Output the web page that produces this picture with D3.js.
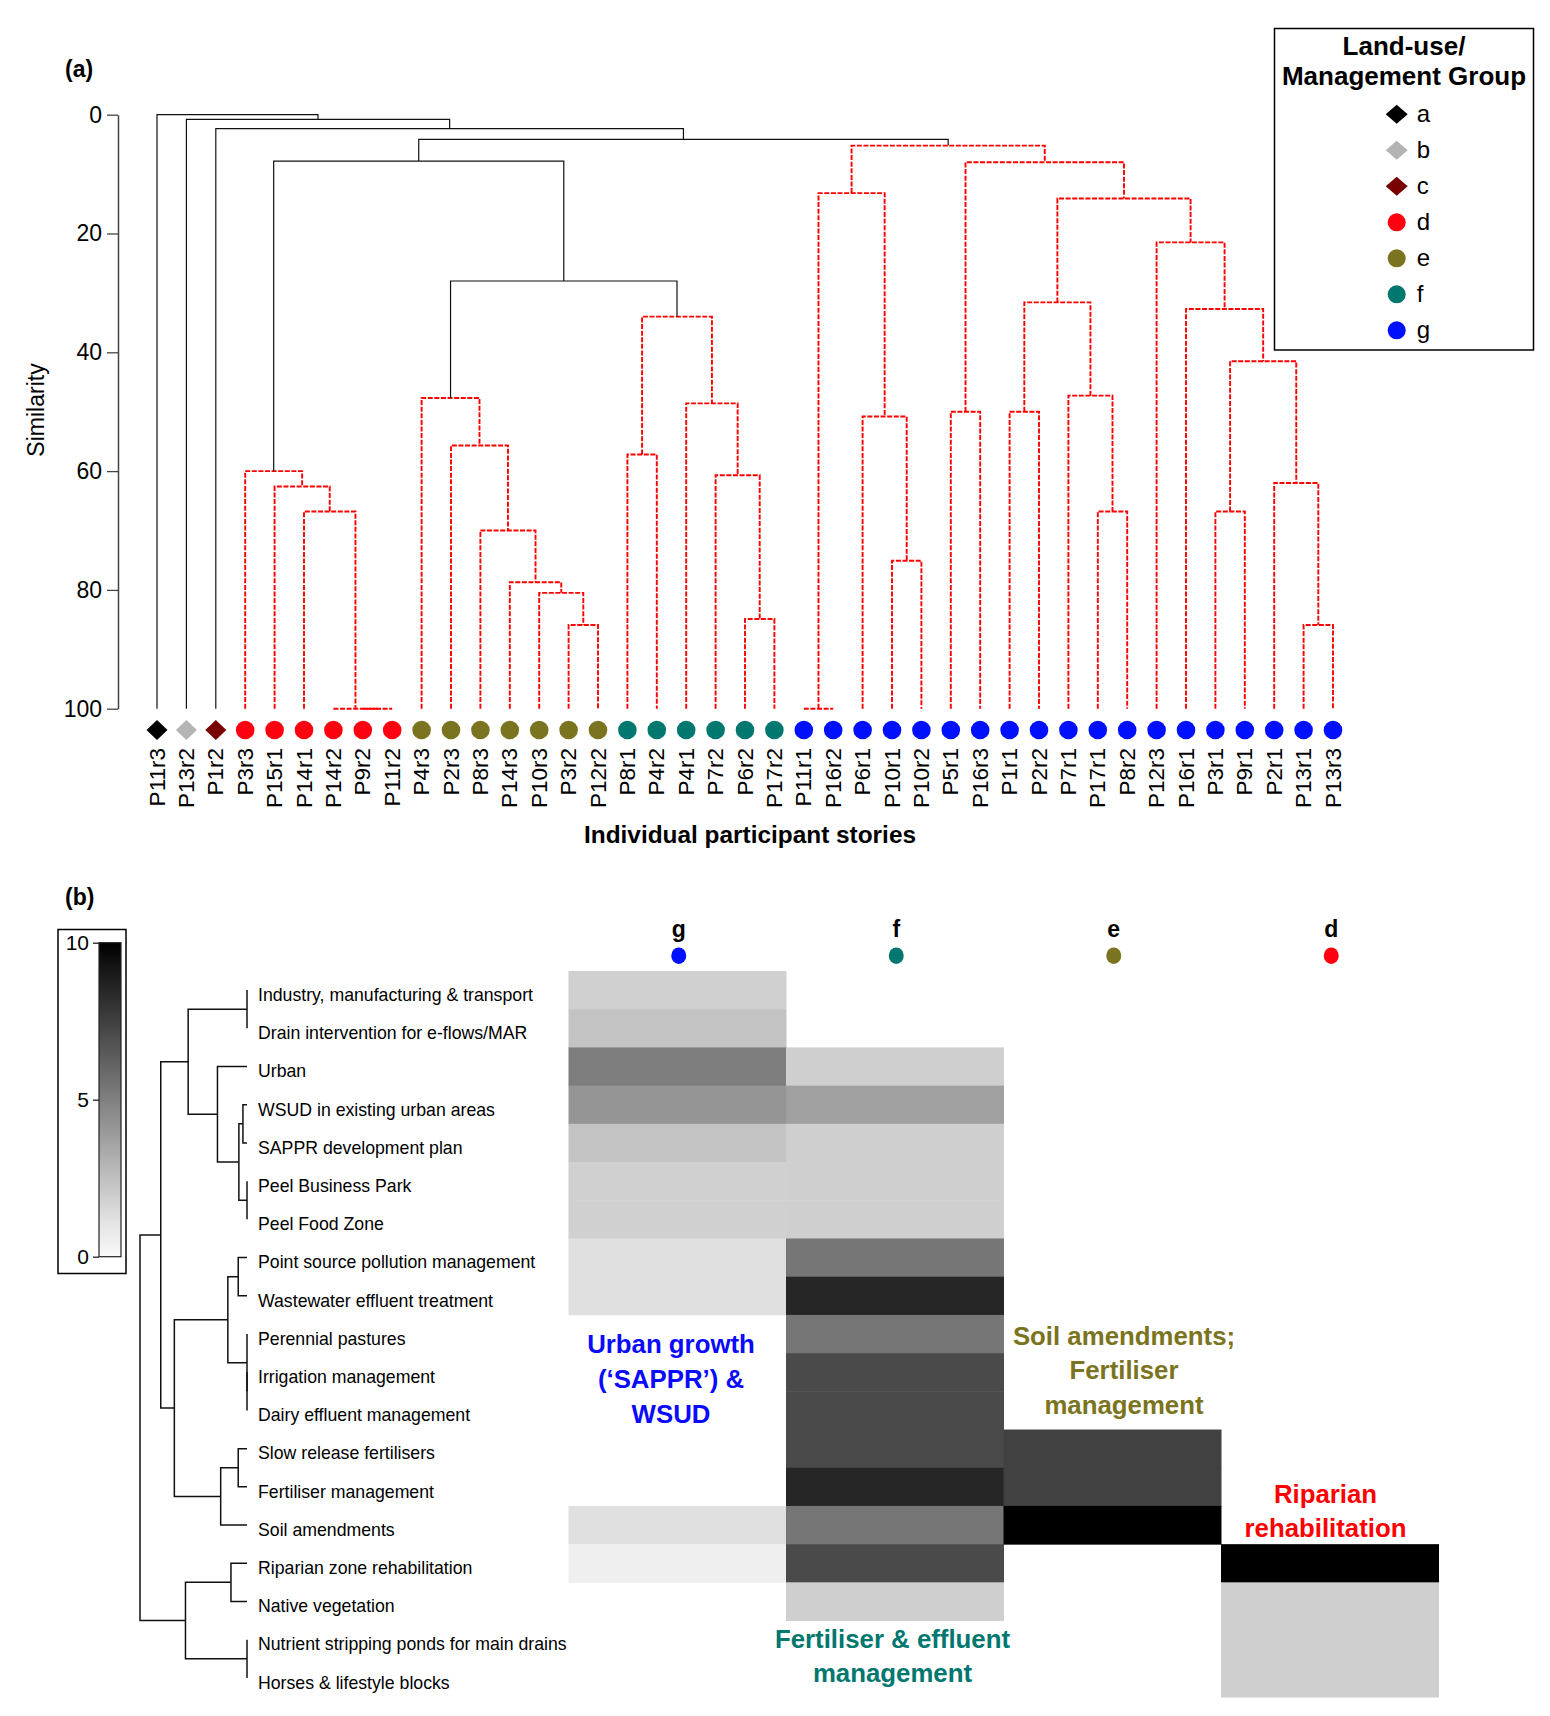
<!DOCTYPE html>
<html><head><meta charset="utf-8">
<script src="https://cdn.jsdelivr.net/npm/d3@7"></script>
<style>
body{margin:0;background:#fff}
svg{display:block}
text{font-family:"Liberation Sans",Arial,Helvetica,sans-serif}
</style>
</head><body>
<svg id="chart" width="1550" height="1716"></svg>
<script>
// ---------------- DATA: panel (a) ----------------
const leafLabels = ["P11r3","P13r2","P1r2","P3r3","P15r1","P14r1","P14r2","P9r2","P11r2",
  "P4r3","P2r3","P8r3","P14r3","P10r3","P3r2","P12r2",
  "P8r1","P4r2","P4r1","P7r2","P6r2","P17r2",
  "P11r1","P16r2","P6r1","P10r1","P10r2","P5r1","P16r3","P1r1","P2r2","P7r1","P17r1","P8r2",
  "P12r3","P16r1","P3r1","P9r1","P2r1","P13r1","P13r3"];
const leafGroups = ["a","b","c","d","d","d","d","d","d",
  "e","e","e","e","e","e","e",
  "f","f","f","f","f","f",
  "g","g","g","g","g","g","g","g","g","g","g","g","g","g","g","g","g","g","g"];
const groupNames = ["a","b","c","d","e","f","g"];
const groupColors = ["#000000","#b4b4b4","#780000","#ff0010","#7a7420","#00776f","#0010ff"];
const groupShapes = ["diamond","diamond","diamond","circle","circle","circle","circle"];
// hclust-style merges: negative = leaf (-(i+1)), positive = earlier merge (1-based)
const mergeLeft  = [-8,-7,-6,-5,-4, -15,-14,-13,-12,-11,-10, -17,-21,-20,-19,12,
  -23,-26,-25,17,-28,-30,-33,-32,22,-37,-40,-39,26,-36,-35,25,21,20, 11,5,36,-3,-2,-1];
const mergeRight = [-9,1,2,3,4, -16,6,7,8,9,10, -18,-22,13,14,15,
  -24,-27,18,19,-29,-31,-34,23,24,-38,-41,27,28,29,30,31,32,33, 16,35,34,37,38,39];
const mergeSim   = [100,100,66.8,62.6,60.0, 85.9,80.5,78.7,70.0,55.7,47.7, 57.2,84.9,60.7,48.6,34.0,
  100,75.1,50.8,13.2,50.0,50.0,66.8,47.3,31.6,66.8,85.9,62.0,41.5,32.7,21.5,14.1,8.0,5.2,
  28.0,7.8,4.15,2.35,0.8,0];
const simTicks = [0,20,40,60,80,100];

// ---------------- DATA: panel (b) ----------------
const rowLabels = ["Industry, manufacturing & transport","Drain intervention for e-flows/MAR","Urban",
  "WSUD in existing urban areas","SAPPR development plan","Peel Business Park","Peel Food Zone",
  "Point source pollution management","Wastewater effluent treatment","Perennial pastures",
  "Irrigation management","Dairy effluent management","Slow release fertilisers","Fertiliser management",
  "Soil amendments","Riparian zone rehabilitation","Native vegetation",
  "Nutrient stripping ponds for main drains","Horses & lifestyle blocks"];
const rowMergeLeft  = [-1,-4,-6,2,-3,1,-8,-11,-10,7,-13,11,10,6,-16,-18,15,14];
const rowMergeRight = [-2,-5,-7,3,4,5,-9,-12,8,9,-14,-15,12,13,-17,-19,16,17];
const rowMergeHeight= [0,0.38,0,0.76,2.76,5.5,0.82,0,0,1.79,0.82,2.46,6.79,8.06,1.5,0,5.75,10];
const heatGroups = ["g","f","e","d"];
const valuesG = [1.84,2.35,5.1,4.16,2.35,1.84,1.84,1.22,1.22,null,null,null,null,null,1.22,0.63,null,null,null];
const valuesF = [null,null,1.88,3.73,1.88,1.88,1.88,5.37,8.51,5.37,7.1,7.1,7.1,8.51,5.37,7.1,1.88,null,null];
const valuesE = [null,null,null,null,null,null,null,null,null,null,null,null,7.45,7.45,10,null,null,null,null];
const valuesD = [null,null,null,null,null,null,null,null,null,null,null,null,null,null,null,10,1.88,1.88,1.88];
const colorbarTicks = [0,5,10];

// ---------------- DRAW ----------------
const svg = d3.select("#chart");
const FONT = '"Liberation Sans",Arial,sans-serif';

function diamondPath(cx, cy, w, h){
  return `M${cx},${cy-h/2}L${cx+w/2},${cy}L${cx},${cy+h/2}L${cx-w/2},${cy}Z`;
}

// ===== Panel (a) =====
const xLeaf = d3.scaleLinear().domain([0, leafLabels.length-1]).range([157, 1333]);
const ySim = d3.scaleLinear().domain([0,100]).range([114.7, 708.7]);

svg.append("text").attr("x",65).attr("y",77).attr("font-size",23).attr("font-weight","bold").text("(a)");

// axis
const yAxis = d3.axisLeft(ySim).tickValues(simTicks).tickSize(11).tickSizeOuter(0).tickPadding(5);
const ga = svg.append("g").attr("transform","translate(118,0)").call(yAxis);
ga.select(".domain").attr("stroke","#444").attr("stroke-width",1.5);
ga.selectAll(".tick line").attr("stroke","#444").attr("stroke-width",1.3);
ga.selectAll(".tick text").attr("font-size",23).attr("font-family",FONT).attr("fill","#000");

svg.append("text").attr("transform","translate(44,410) rotate(-90)")
  .attr("text-anchor","middle").attr("font-size",23).text("Similarity");

// compute nodes
const nodeX = [], nodeY = [], nodeGroups = [];
function cx(ref){ return ref < 0 ? xLeaf(-ref-1) : nodeX[ref-1]; }
function cy(ref){ return ref < 0 ? ySim(100) : nodeY[ref-1]; }
function cg(ref){ return ref < 0 ? new Set([leafGroups[-ref-1]]) : nodeGroups[ref-1]; }
mergeSim.forEach((s,i)=>{
  nodeX[i] = (cx(mergeLeft[i]) + cx(mergeRight[i]))/2;
  nodeY[i] = ySim(s);
  nodeGroups[i] = new Set([...cg(mergeLeft[i]), ...cg(mergeRight[i])]);
});
const gDen = svg.append("g").attr("fill","none");
mergeSim.forEach((s,i)=>{
  const gs = [...nodeGroups[i]];
  const red = gs.length===1 && ["d","e","f","g"].includes(gs[0]);
  const l = mergeLeft[i], r = mergeRight[i];
  const p = `M${cx(l)},${cy(l)}V${nodeY[i]}H${cx(r)}V${cy(r)}`;
  const path = gDen.append("path").attr("d",p);
  if(red) path.attr("stroke","#ff0000").attr("stroke-width",1.9).attr("stroke-dasharray","5,1.6");
  else path.attr("stroke","#111").attr("stroke-width",1.2);
});

// leaf markers
leafLabels.forEach((lab,i)=>{
  const gi = groupNames.indexOf(leafGroups[i]);
  const x = xLeaf(i), y = 730;
  if(groupShapes[gi]==="diamond"){
    svg.append("path").attr("d",diamondPath(x,y,21,20)).attr("fill",groupColors[gi]);
  } else {
    svg.append("ellipse").attr("cx",x).attr("cy",y).attr("rx",9.3).attr("ry",9.3).attr("fill",groupColors[gi]);
  }
  svg.append("text").attr("transform",`translate(${x},748) rotate(-90)`)
    .attr("text-anchor","end").attr("dominant-baseline","central")
    .attr("font-size",22.5).text(lab);
});
svg.append("text").attr("x",750).attr("y",843).attr("text-anchor","middle")
  .attr("font-size",24.4).attr("font-weight","bold")
  .text("Individual participant stories");

// legend
svg.append("rect").attr("x",1274.5).attr("y",28.5).attr("width",259).attr("height",321.5)
  .attr("fill","#fff").attr("stroke","#000").attr("stroke-width",1.5);
svg.append("text").attr("x",1404).attr("y",54.5).attr("text-anchor","middle")
  .attr("font-size",26).attr("font-weight","bold").text("Land-use/");
svg.append("text").attr("x",1404).attr("y",84.5).attr("text-anchor","middle")
  .attr("font-size",26).attr("font-weight","bold").text("Management Group");
groupNames.forEach((g,i)=>{
  const y = 114.3 + i*36;
  if(groupShapes[i]==="diamond"){
    svg.append("path").attr("d",diamondPath(1396.7,y,22,19)).attr("fill",groupColors[i]);
  } else {
    svg.append("circle").attr("cx",1396.7).attr("cy",y).attr("r",9).attr("fill",groupColors[i]);
  }
  svg.append("text").attr("x",1416.7).attr("y",y+8).attr("font-size",24).text(g);
});

// ===== Panel (b) =====
svg.append("text").attr("x",65).attr("y",905).attr("font-size",23).attr("font-weight","bold").text("(b)");

const grayScale = d3.scaleLinear().domain([0,10]).range(["#ffffff","#000000"]);

// colorbar
svg.append("rect").attr("x",58).attr("y",929.5).attr("width",68).attr("height",344)
  .attr("fill","#fff").attr("stroke","#000").attr("stroke-width",1.5);
const defs = svg.append("defs");
const lg = defs.append("linearGradient").attr("id","cbar").attr("x1",0).attr("y1",1).attr("x2",0).attr("y2",0);
d3.range(0,11).forEach(v=>{
  lg.append("stop").attr("offset",v/10).attr("stop-color",grayScale(Math.max(v,0.25)));
});
const cbScale = d3.scaleLinear().domain([0,10]).range([1256.7,942.7]);
svg.append("rect").attr("x",99).attr("y",942.7).attr("width",22).attr("height",314)
  .attr("fill","url(#cbar)").attr("stroke","#222").attr("stroke-width",1.2);
const cbAxis = d3.axisLeft(cbScale).tickValues(colorbarTicks).tickSize(6).tickSizeOuter(0).tickPadding(4);
const gcb = svg.append("g").attr("transform","translate(99,0)").call(cbAxis);
gcb.select(".domain").remove();
gcb.selectAll(".tick line").attr("stroke","#222").attr("stroke-width",1.3);
gcb.selectAll(".tick text").attr("font-size",21).attr("font-family",FONT).attr("fill","#000");

// heatmap
const colBand = d3.scaleBand().domain(heatGroups).range([568.5,1438.5]).padding(0);
const rowBand = d3.scaleBand().domain(d3.range(rowLabels.length)).range([971,1697]).padding(0);
const heatValues = {g:valuesG, f:valuesF, e:valuesE, d:valuesD};
heatGroups.forEach(g=>{
  heatValues[g].forEach((v,r)=>{
    if(v===null) return;
    svg.append("rect").attr("x",colBand(g)).attr("y",rowBand(r))
      .attr("width",colBand.bandwidth()+0.5).attr("height",rowBand.bandwidth()+0.5)
      .attr("fill",grayScale(v));
  });
  const gi = groupNames.indexOf(g);
  const xc = colBand(g)+colBand.bandwidth()/2;
  svg.append("text").attr("x",xc+1.5).attr("y",937).attr("text-anchor","middle")
    .attr("font-size",23).attr("font-weight","bold").text(g);
  svg.append("ellipse").attr("cx",xc+1.5).attr("cy",955.7).attr("rx",7.5).attr("ry",8.3).attr("fill",groupColors[gi]);
});

// row labels
rowLabels.forEach((lab,r)=>{
  svg.append("text").attr("x",258).attr("y",rowBand(r)+rowBand.bandwidth()/2+10.8)
    .attr("font-size",17.7).text(lab);
});

// row dendrogram
const hx = d3.scaleLinear().domain([0,10]).range([247,140]);
const rX = [], rY = [];
function rcx(ref){ return ref<0 ? hx(0) : rX[ref-1]; }
function rcy(ref){ return ref<0 ? rowBand(-ref-1)+rowBand.bandwidth()/2 : rY[ref-1]; }
rowMergeHeight.forEach((h,i)=>{
  rX[i] = hx(h);
  rY[i] = (rcy(rowMergeLeft[i]) + rcy(rowMergeRight[i]))/2;
});
const gRow = svg.append("g").attr("fill","none").attr("stroke","#111").attr("stroke-width",1.5);
rowMergeHeight.forEach((h,i)=>{
  const l=rowMergeLeft[i], r=rowMergeRight[i];
  gRow.append("path").attr("d",`M${rcx(l)},${rcy(l)}H${rX[i]}V${rcy(r)}H${rcx(r)}`);
});

// annotations
const annotations = [
  {lines:["Urban growth","(‘SAPPR’) &","WSUD"], x:671, y:[1353,1387.5,1422.5], color:"#0a0aff"},
  {lines:["Soil amendments;","Fertiliser","management"], x:1124, y:[1345,1379,1414], color:"#7a7420"},
  {lines:["Riparian","rehabilitation"], x:1325.5, y:[1502.5,1536.7], color:"#ff0000"},
  {lines:["Fertiliser & effluent","management"], x:892.5, y:[1648.3,1681.7], color:"#00776f"}
];
annotations.forEach(a=>{
  a.lines.forEach((t,i)=>{
    svg.append("text").attr("x",a.x).attr("y",a.y[i]).attr("text-anchor","middle")
      .attr("font-size",25.8).attr("font-weight","bold").attr("fill",a.color).text(t);
  });
});
</script>
</body></html>
